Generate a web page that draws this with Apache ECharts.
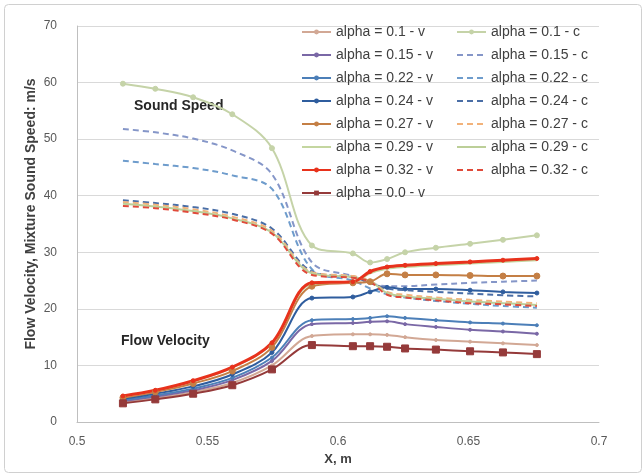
<!DOCTYPE html>
<html>
<head>
<meta charset="utf-8">
<script src="https://cdn.jsdelivr.net/npm/echarts@6/dist/echarts.min.js"></script>
<style>
  html, body { margin: 0; padding: 0; background: #ffffff; }
  #chart { width: 642px; height: 474px; }
</style>
</head>
<body>
<div id="chart"></div>
<script>
// Stations along the pipe (m)
const xPos = [0.5176, 0.53, 0.5445, 0.5595, 0.5747, 0.59, 0.6057, 0.6123, 0.6188, 0.6257, 0.6375, 0.6506, 0.6632, 0.6762];

// Flow velocity (m/s) per void fraction
const vel01  = [3.5, 4.2, 5.3, 6.9, 10.0, 15.2, 15.5, 15.5, 15.4, 15.0, 14.5, 14.2, 13.9, 13.6];
const vel015 = [3.7, 4.5, 5.6, 7.4, 10.8, 17.3, 17.5, 17.7, 17.8, 17.3, 16.8, 16.3, 16.0, 15.6];
const vel022 = [3.9, 4.7, 5.9, 7.8, 11.4, 18.0, 18.2, 18.4, 18.7, 18.4, 18.0, 17.6, 17.4, 17.1];
const vel024 = [4.1, 5.0, 6.3, 8.4, 12.3, 21.9, 22.1, 23.0, 23.8, 23.5, 23.5, 23.3, 23.0, 22.8];
const vel027 = [4.3, 5.3, 6.8, 9.0, 13.2, 24.0, 24.6, 24.8, 26.2, 26.0, 26.0, 25.9, 25.8, 25.8];
const vel029 = [4.5, 5.5, 7.2, 9.6, 13.9, 24.4, 24.7, 26.3, 27.1, 27.4, 27.7, 28.0, 28.3, 28.6];
const vel032 = [4.6, 5.6, 7.3, 9.7, 14.0, 24.6, 24.8, 26.6, 27.4, 27.7, 28.0, 28.3, 28.6, 28.9];
const vel00  = [3.3, 4.0, 5.0, 6.5, 9.3, 13.6, 13.4, 13.4, 13.3, 13.0, 12.8, 12.5, 12.3, 12.0];

// Mixture sound speed (m/s) per void fraction
const snd01  = [59.8, 58.9, 57.4, 54.4, 48.4, 31.2, 29.8, 28.2, 28.8, 30.0, 30.8, 31.5, 32.2, 33.0];
const snd015 = [51.8, 51.2, 50.1, 48.0, 43.8, 28.2, 25.8, 24.6, 24.0, 24.0, 24.3, 24.6, 24.8, 25.0];
const snd022 = [46.2, 45.6, 44.9, 43.6, 41.2, 27.0, 25.0, 23.6, 22.6, 22.0, 21.4, 20.9, 20.5, 20.2];
const snd024 = [39.2, 38.7, 38.0, 36.8, 34.2, 26.6, 25.6, 24.6, 23.6, 23.3, 23.0, 22.7, 22.4, 22.2];
const snd027 = [38.9, 38.4, 37.6, 36.3, 33.8, 26.5, 25.8, 25.0, 23.0, 22.5, 22.0, 21.6, 21.3, 21.0];
const snd029 = [38.6, 38.1, 37.3, 36.0, 33.5, 26.3, 25.6, 24.9, 22.8, 22.2, 21.8, 21.3, 21.0, 20.7];
const snd032 = [38.2, 37.8, 37.0, 35.8, 33.3, 26.0, 25.5, 24.8, 22.5, 22.0, 21.5, 21.0, 20.8, 20.5];

// Axis ticks
const xTicks = [0.5, 0.55, 0.6, 0.65, 0.7];
const yTicks = [0, 10, 20, 30, 40, 50, 60, 70];

function pts(ys) { return xPos.map((x, i) => [x, ys[i]]); }

function line(name, ys, color, opts) {
  opts = opts || {};
  return {
    name: name,
    type: 'line',
    smooth: 0.35,
    data: pts(ys),
    symbol: opts.symbol || 'none',
    symbolSize: opts.size || 5,
    showSymbol: !!opts.symbol,
    lineStyle: { color: color, width: opts.width || 2, type: opts.dash ? [6, 4] : 'solid' },
    itemStyle: { color: color, borderColor: color },
    emphasis: { disabled: true },
    z: opts.z || 2
  };
}

const series = [
  line('alpha = 0.1 - v',  vel01,  '#d2a895', { symbol: 'circle', size: 3 }),
  line('alpha = 0.1 - c',  snd01,  '#c5d3a8', { symbol: 'circle', size: 5 }),
  line('alpha = 0.15 - v', vel015, '#7a68a6', { symbol: 'circle', size: 3 }),
  line('alpha = 0.15 - c', snd015, '#8596c8', { dash: true }),
  line('alpha = 0.22 - v', vel022, '#4c7fb8', { symbol: 'circle', size: 3 }),
  line('alpha = 0.22 - c', snd022, '#6e9ccc', { dash: true }),
  line('alpha = 0.24 - v', vel024, '#2f5d9e', { symbol: 'circle', size: 4 }),
  line('alpha = 0.24 - c', snd024, '#4a6ea6', { dash: true }),
  line('alpha = 0.27 - v', vel027, '#c47f45', { symbol: 'circle', size: 6 }),
  line('alpha = 0.27 - c', snd027, '#f2b27a', { dash: true }),
  line('alpha = 0.29 - v', vel029, '#c4d6a0'),
  line('alpha = 0.29 - c', snd029, '#bccf98'),
  line('alpha = 0.32 - v', vel032, '#e8321c', { symbol: 'circle', size: 4, width: 3 }),
  line('alpha = 0.32 - c', snd032, '#e04a3a', { dash: true }),
  line('alpha = 0.0 - v',  vel00,  '#953a3a', { symbol: 'rect', size: 7 })
];

// Legend entries; plain-line series get no marker in their key
const plainLines = ['alpha = 0.15 - c', 'alpha = 0.22 - c', 'alpha = 0.24 - c', 'alpha = 0.27 - c',
                    'alpha = 0.29 - v', 'alpha = 0.29 - c', 'alpha = 0.32 - c'];
const leftNames  = ['alpha = 0.1 - v', 'alpha = 0.15 - v', 'alpha = 0.22 - v', 'alpha = 0.24 - v',
                    'alpha = 0.27 - v', 'alpha = 0.29 - v', 'alpha = 0.32 - v', 'alpha = 0.0 - v'];
const rightNames = ['alpha = 0.1 - c', 'alpha = 0.15 - c', 'alpha = 0.22 - c', 'alpha = 0.24 - c',
                    'alpha = 0.27 - c', 'alpha = 0.29 - c', 'alpha = 0.32 - c'];

function legendData(names) {
  return names.map(n => plainLines.indexOf(n) >= 0 ? { name: n, itemStyle: { opacity: 0 } } : { name: n });
}

const legendText = { fontFamily: 'Liberation Sans', fontSize: 14, lineHeight: 16, color: '#404040' };
const legendBase = {
  orient: 'vertical', top: 24, itemWidth: 29, itemHeight: 6, itemGap: 7,
  textStyle: legendText, selectedMode: false, padding: 0
};

const chart = echarts.init(document.getElementById('chart'), null, { renderer: 'canvas' });
chart.setOption({
  animation: false,
  backgroundColor: '#ffffff',
  grid: { left: 77, right: 43, top: 26, bottom: 52 },
  xAxis: {
    type: 'value', min: 0.5, max: 0.7, interval: 0.05,
    name: 'X, m', nameLocation: 'middle', nameGap: 28,
    nameTextStyle: { fontFamily: 'Liberation Sans', fontWeight: 'bold', fontSize: 13, color: '#404040' },
    axisLine: { lineStyle: { color: '#bfbfbf', width: 1 } },
    axisTick: { show: false },
    splitLine: { show: false },
    axisLabel: {
      fontFamily: 'Liberation Sans', fontSize: 12, color: '#595959', margin: 14,
      formatter: v => (xTicks.some(t => Math.abs(t - v) < 1e-9) ? String(+v.toFixed(2)) : '')
    }
  },
  yAxis: {
    type: 'value', min: 0, max: 70, interval: 10,
    axisLine: { show: true, lineStyle: { color: '#bfbfbf', width: 1 } },
    axisTick: { show: false },
    splitLine: { lineStyle: { color: '#d9d9d9', width: 1 } },
    axisLabel: {
      fontFamily: 'Liberation Sans', fontSize: 12, color: '#595959', margin: 20,
      formatter: v => (yTicks.indexOf(v) >= 0 ? String(v) : '')
    }
  },
  legend: [
    Object.assign({ data: legendData(leftNames), left: 301 }, legendBase),
    Object.assign({ data: legendData(rightNames), left: 456 }, legendBase)
  ],
  graphic: [
    {
      type: 'rect', left: 2, top: 2, silent: true,
      shape: { width: 637, height: 468, r: 4 },
      style: { fill: 'none', stroke: '#d0d0d0', lineWidth: 1 }
    },
    {
      type: 'text', x: 31, y: 214, rotation: Math.PI / 2, silent: true,
      style: {
        text: 'Flow Velocity, Mixture Sound Speed: m/s', font: 'bold 14px "Liberation Sans"',
        fill: '#404040', align: 'center', verticalAlign: 'middle'
      }
    },
    {
      type: 'text', left: 134, top: 99, silent: true,
      style: { text: 'Sound Speed', font: 'bold 14px "Liberation Sans"', fill: '#262626' }
    },
    {
      type: 'text', left: 121, top: 334, silent: true,
      style: { text: 'Flow Velocity', font: 'bold 14px "Liberation Sans"', fill: '#262626' }
    }
  ],
  series: series
});
</script>
</body>
</html>
